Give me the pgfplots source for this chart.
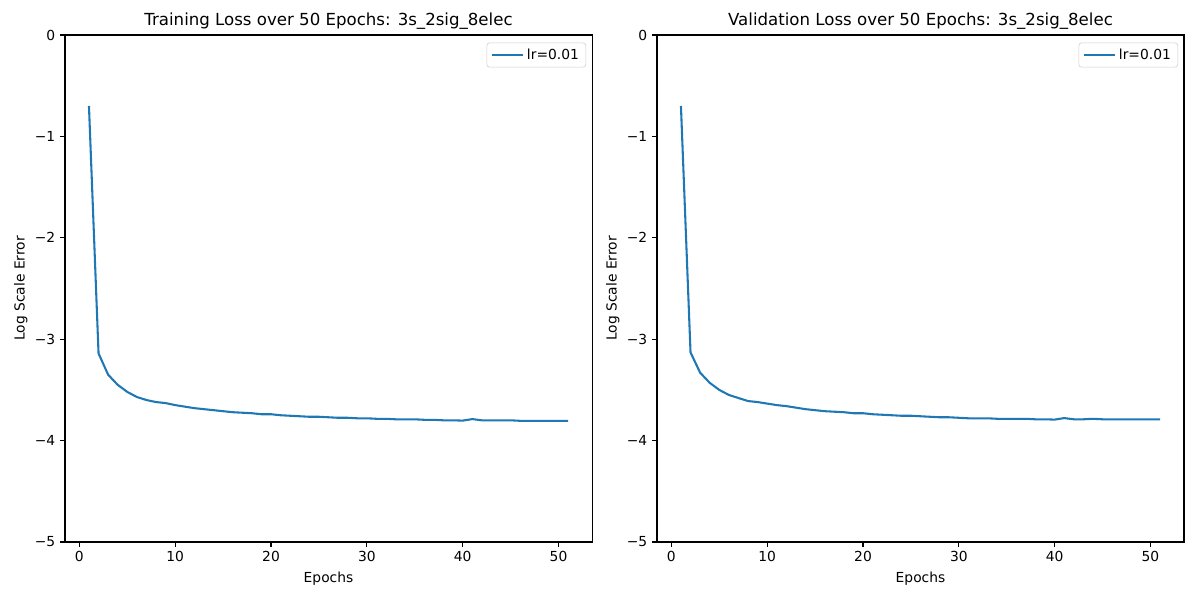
\documentclass[border=0pt]{standalone}
\usepackage{pgfplots}
\pgfplotsset{compat=1.18}
\usepackage{pgfplotstable}
\usepackage{fontspec}
\setmainfont{DejaVu Sans}
\definecolor{tabblue}{HTML}{1F77B4}
\pgfplotstableread{
x y
1 -0.70
2 -3.14
3 -3.35
4 -3.45
5 -3.52
6 -3.57
7 -3.60
8 -3.62
9 -3.63
10 -3.65
11 -3.665
12 -3.68
13 -3.69
14 -3.70
15 -3.71
16 -3.72
17 -3.725
18 -3.73
19 -3.74
20 -3.74
21 -3.75
22 -3.755
23 -3.76
24 -3.765
25 -3.765
26 -3.77
27 -3.775
28 -3.775
29 -3.78
30 -3.78
31 -3.785
32 -3.785
33 -3.79
34 -3.79
35 -3.79
36 -3.795
37 -3.795
38 -3.80
39 -3.80
40 -3.803
41 -3.788
42 -3.80
43 -3.80
44 -3.80
45 -3.80
46 -3.805
47 -3.805
48 -3.805
49 -3.805
50 -3.805
51 -3.805
}\train
\pgfplotstableread{
x y
1 -0.70
2 -3.13
3 -3.33
4 -3.43
5 -3.50
6 -3.55
7 -3.58
8 -3.61
9 -3.62
10 -3.635
11 -3.65
12 -3.66
13 -3.675
14 -3.69
15 -3.70
16 -3.71
17 -3.715
18 -3.72
19 -3.73
20 -3.73
21 -3.74
22 -3.745
23 -3.75
24 -3.755
25 -3.755
26 -3.76
27 -3.765
28 -3.77
29 -3.77
30 -3.775
31 -3.78
32 -3.78
33 -3.78
34 -3.785
35 -3.785
36 -3.785
37 -3.785
38 -3.79
39 -3.79
40 -3.793
41 -3.778
42 -3.79
43 -3.79
44 -3.785
45 -3.79
46 -3.79
47 -3.79
48 -3.79
49 -3.79
50 -3.79
51 -3.79
}\valid
\pgfplotsset{
  myaxis/.style={
    scale only axis, width=380.9pt, height=366.4pt,
    xmin=-1.5, xmax=53.5, ymin=-5, ymax=0,
    xtick={0,10,20,30,40,50}, xticklabels={0,10,20,30,40,50},
    ytick={-5,-4,-3,-2,-1,0}, yticklabels={−5,−4,−3,−2,−1,0},
    tick pos=left,
    tick align=outside, tick style={black, line width=0.8pt},
    major tick length=3.5pt,
    axis line style={line width=0.8pt},
    every tick label/.style={font=\fontsize{10}{12}\selectfont},
    xlabel={Epochs}, ylabel={Log Scale Error},
    label style={font=\fontsize{10}{12}\selectfont},
    ylabel style={yshift=-1.5pt},
    title style={font=\fontsize{12}{14}\selectfont, yshift=-5.5pt},
    legend style={at={(1,1)}, anchor=north east, xshift=-4.3pt, yshift=-5.5pt,
      draw=black!20, rounded corners=2pt, font=\fontsize{10}{12}\selectfont,
      inner xsep=3pt, inner ysep=1.2pt,
      nodes={inner xsep=2pt, inner ysep=3pt}},
    legend cell align=left,
    legend image code/.code={\draw[#1] (0pt,0pt) -- (22.5pt,0pt);},
  }
}
\begin{document}
\begin{tikzpicture}
\path[use as bounding box] (0,0) rectangle (867.24pt,433.62pt);
\begin{axis}[myaxis, at={(46.98pt,41.92pt)}, anchor=south west,
  title={Training Loss over 50 Epochs: 3s\_2sig\_8elec}]
\addplot[tabblue, line width=1.5pt, no marks] table[x=x,y=y]{\train};
\addlegendentry{lr=0.01}
\end{axis}
\begin{axis}[myaxis, at={(474.8pt,41.92pt)}, anchor=south west,
  title={Validation Loss over 50 Epochs: 3s\_2sig\_8elec}]
\addplot[tabblue, line width=1.5pt, no marks] table[x=x,y=y]{\valid};
\addlegendentry{lr=0.01}
\end{axis}
\end{tikzpicture}
\end{document}
